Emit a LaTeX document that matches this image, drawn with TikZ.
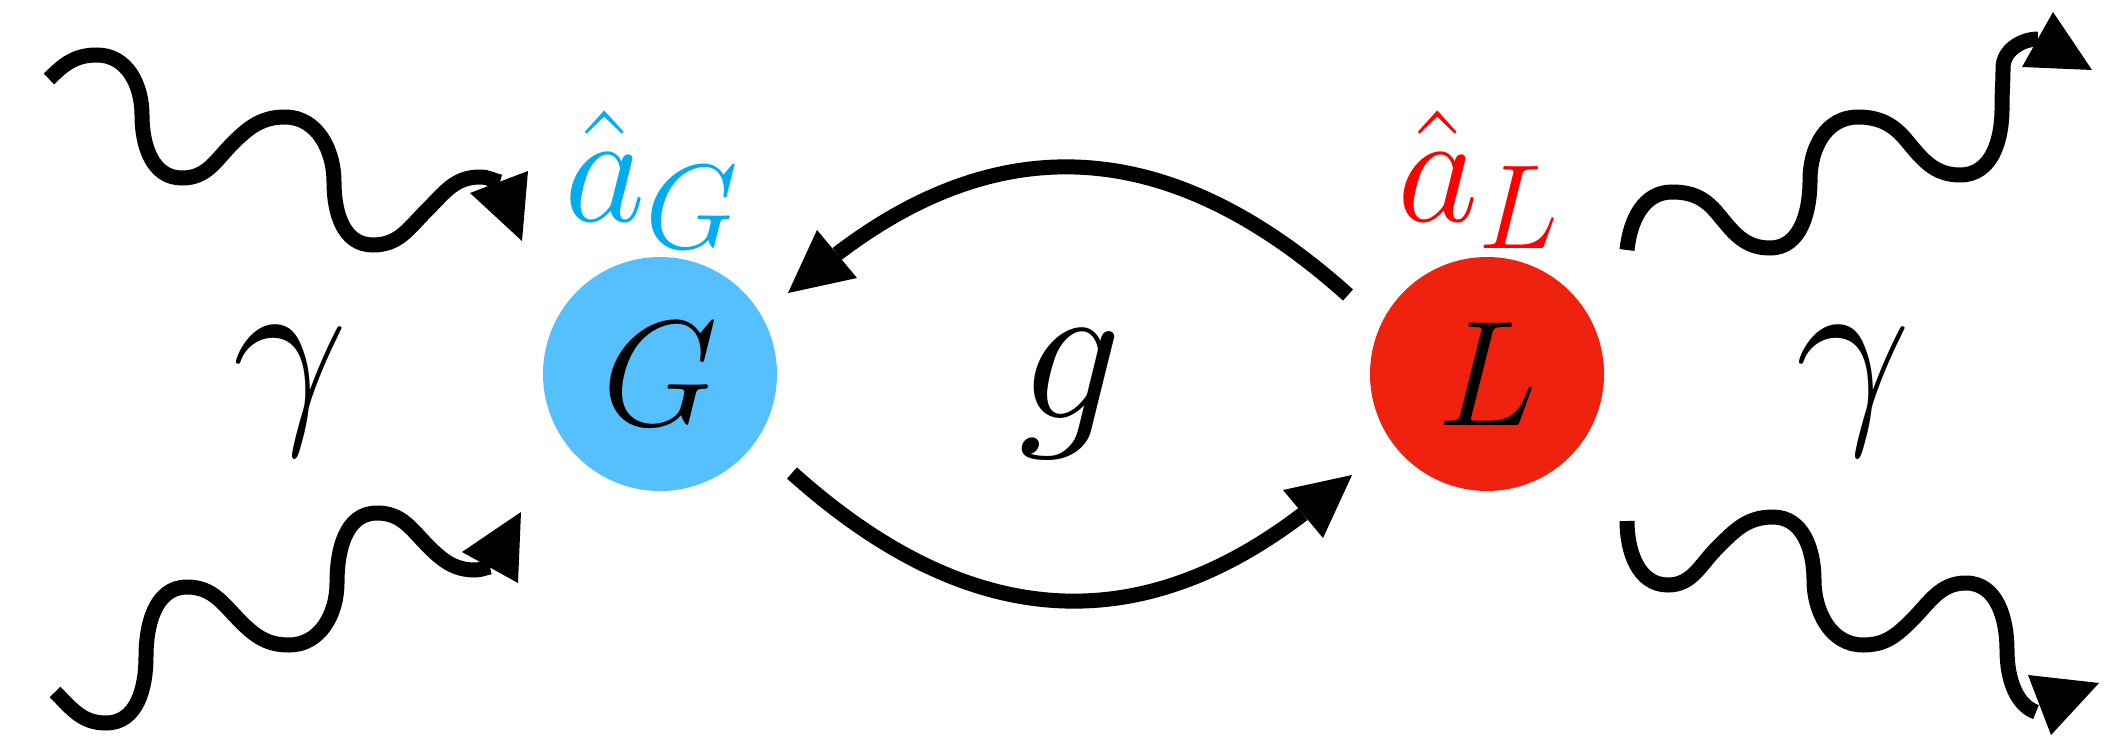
\RequirePackage{fix-cm}
\documentclass[tikz,border=0pt]{standalone}
\DeclareMathSizes{158}{158}{120}{90}
\definecolor{blueC}{RGB}{86,192,255}
\definecolor{redC}{RGB}{238,34,14}
\definecolor{cyanT}{RGB}{0,174,239}
\definecolor{redT}{RGB}{255,0,0}
\begin{document}
\begin{tikzpicture}[x=1pt,y=-1pt,
  wave/.style={line width=15pt,black},
  arcline/.style={line width=15pt,black},
  head/.style={fill=black},
  cav/.style={circle,minimum size=234pt,inner sep=0pt,font=\fontsize{150}{180}\selectfont},
  bigsym/.style={anchor=base,inner sep=0pt,font=\fontsize{206}{240}\selectfont},
  oplabel/.style={anchor=base west,inner sep=0pt,font=\fontsize{158}{190}\selectfont}]
\useasboundingbox (0,0) rectangle (2111,739);

% cavities
\node[cav,fill=blueC] (G) at (660,374) {$G$};
\node[cav,fill=redC] (L) at (1487,374) {$L$};

% labels
\node[oplabel,text=cyanT] (aG) at (564,221) {$\hat{a}_{G}$};
\node[oplabel,text=redT] (aL) at (1397,221) {$\hat{a}_{L}$};
\node[bigsym] (g) at (1070,418) {$g$};
\node[bigsym] (gl) at (290,415) {$\gamma$};
\node[bigsym] (gr) at (1853,415) {$\gamma$};

% coupling arrows
\coordinate (uS) at (1348,295);
\coordinate (uB) at (837,254);
\coordinate (lS) at (792,473);
\coordinate (lB) at (1303,514);
\draw[arcline] (uS) .. controls (1162,128) and (993,135) .. (uB);
\fill[head] (788,293) -- (817,230) -- (857,278) -- cycle;
\draw[arcline] (lS) .. controls (978,640) and (1147,633) .. (lB);
\fill[head] (1352,475) -- (1323,538) -- (1283,490) -- cycle;

% top-left photon
\draw[wave] (49,79) .. controls +(15,-15) and +(-22,0) .. (97,55)
 .. controls +(30,0) and +(0,-30) .. (142,115)
 .. controls +(0,30) and +(-30,0) .. (182,178)
 .. controls +(25,0) and +(-18,18) .. (233,143)
 .. controls +(16,-16) and +(-23,0) .. (285,117)
 .. controls +(32,0) and +(0,-32) .. (334,182)
 .. controls +(0,30) and +(-30,0) .. (373,245)
 .. controls +(26,0) and +(-18,18) .. (427,210)
 .. controls +(18,-18) and +(-25,0) .. (480,177)
 .. controls +(8,0) and +(-8,-2) .. (500,182);
\fill[head] (470,193) -- (528,171) -- (522,241) -- cycle;

% bottom-left photon
\draw[wave] (55,692) .. controls +(17,17) and +(-24,0) .. (106,723)
 .. controls +(31,0) and +(0,31) .. (146,657)
 .. controls +(0,-32) and +(-32,0) .. (187,587)
 .. controls +(26,0) and +(-18,-18) .. (241,622)
 .. controls +(15,15) and +(-21,0) .. (289,645)
 .. controls +(31,0) and +(0,31) .. (337,583)
 .. controls +(0,-32) and +(-32,0) .. (377,513)
 .. controls +(25,0) and +(-18,-18) .. (429,547)
 .. controls +(14,14) and +(-20,0) .. (475,570)
 .. controls +(6,0) and +(-6,1) .. (490,567);
\fill[head] (521,512) -- (462,552) -- (518,583) -- cycle;

% top-right photon
\draw[wave] (1627,250) .. controls +(3,-29) and +(-29,0) .. (1672,192)
 .. controls +(20,0) and +(-13,-16) .. (1718,214)
 .. controls +(15,18) and +(-26,0) .. (1770,248)
 .. controls +(31,0) and +(0,31) .. (1810,180)
 .. controls +(0,-32) and +(-32,0) .. (1858,117)
 .. controls +(22,0) and +(-13,-16) .. (1907,141)
 .. controls +(15,18) and +(-26,0) .. (1960,175)
 .. controls +(32,0) and +(0,32) .. (2002,108)
 .. controls +(0,-18) and +(0,15) .. (2003,68)
 .. controls +(0,-18) and +(-16,0) .. (2038,39);
\fill[head] (2053,12) -- (2022,67) -- (2092,70) -- cycle;

% bottom-right photon
\draw[wave] (1627,521) .. controls +(0,30) and +(-30,0) .. (1668,585)
 .. controls +(24,0) and +(-17,17) .. (1717,548)
 .. controls +(18,-18) and +(-26,0) .. (1773,517)
 .. controls +(30,0) and +(0,-30) .. (1814,580)
 .. controls +(0,32) and +(-32,0) .. (1863,645)
 .. controls +(22,0) and +(-16,16) .. (1912,620)
 .. controls +(18,-18) and +(-26,0) .. (1966,583)
 .. controls +(31,0) and +(0,-31) .. (2007,650)
 .. controls +(0,32) and +(-18,-6) .. (2036,712);
\fill[head] (2028,675) -- (2099,683) -- (2051,735) -- cycle;
\end{tikzpicture}
\end{document}
